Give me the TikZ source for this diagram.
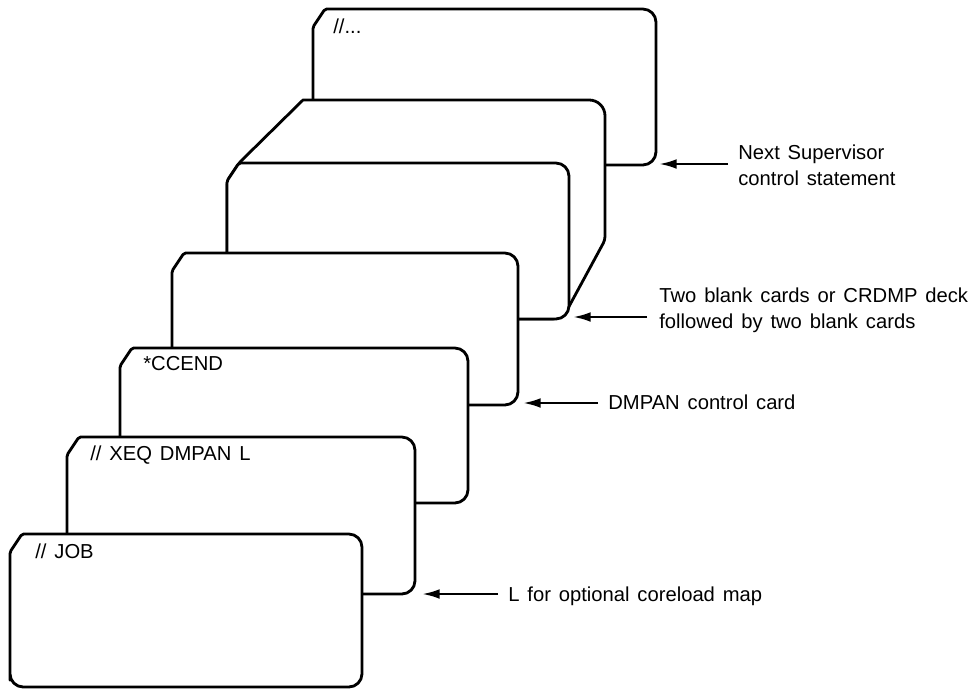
\documentclass[tikz,border=0pt]{standalone}
\usepackage{fontspec}
\setmainfont{Liberation Sans}[WordSpace=1.4]
\usetikzlibrary{arrows.meta}
\begin{document}
\begin{tikzpicture}[x=0.02cm,y=-0.02cm,
  cardline/.style={line width=1.6pt, fill=white, line join=round},
  pointer/.style={line width=1.4pt, -{Latex[length=10pt,width=5.5pt]}},
  cardtext/.style={anchor=base west, inner sep=0pt, font=\fontsize{11.5}{14}\selectfont},
  note/.style={anchor=base west, inner sep=0pt, font=\fontsize{11.5}{15}\selectfont},
]
\useasboundingbox (0,0) rectangle (970,690);

% one punched card: name, left, top, right, bottom (top-left corner cut off)
\newcommand\punchcard[5]{%
  \draw[cardline] (#2,#5-20) [rounded corners=1pt] -- (#2,#3+18) -- (#2+12,#3)
     [rounded corners=7.5pt] -- (#4,#3) -- (#4,#5) -- (#2,#5) -- cycle;
  \coordinate (#1-nw) at (#2,#3);
  \coordinate (#1-se) at (#4,#5);
}

% back card
\punchcard{next}{313}{9}{656}{165}

% the deck drawn as a block: outline of the back face and its sides
\draw[cardline] (239,163) -- (303,100) [rounded corners=9pt] -- (605,100)
   [rounded corners=2pt] -- (605,240) -- (566,312) -- (556,319) -- (227,319) -- (227,181) -- cycle;
\punchcard{deck}{227}{163}{569}{319}

\punchcard{dmpan}{172}{253}{518}{405}
\punchcard{ccend}{120}{348}{468}{503}
\punchcard{xeq}{67}{437}{415}{594}
\punchcard{job}{10}{534}{362}{687}

% card labels
\node[cardtext] (tnext)  at (333,33)  {//...};
\node[cardtext] (tccend) at (143,370) {*CCEND};
\node[cardtext] (txeq)   at (90,460)  {// XEQ DMPAN L};
\node[cardtext] (tjob)   at (35,558)  {// JOB};

% annotations
\node[note] (nnext) at (738,159)
  {\begin{tabular}[t]{@{}l@{}}Next Supervisor\\control statement\end{tabular}};
\node[note] (ndeck) at (659,302)
  {\begin{tabular}[t]{@{}l@{}}Two blank cards or CRDMP deck\\followed by two blank cards\end{tabular}};
\node[note] (ndmpan) at (608,409) {DMPAN control card};
\node[note] (nmap) at (508,601) {L for optional coreload map};

% pointers
\coordinate (p1) at (728,164); \coordinate (q1) at (659,164);
\coordinate (p2) at (647,317); \coordinate (q2) at (573,317);
\coordinate (p3) at (598,403); \coordinate (q3) at (523,403);
\coordinate (p4) at (498,594); \coordinate (q4) at (422,594);
\draw[pointer] (p1) -- (q1);
\draw[pointer] (p2) -- (q2);
\draw[pointer] (p3) -- (q3);
\draw[pointer] (p4) -- (q4);
\end{tikzpicture}
\end{document}
